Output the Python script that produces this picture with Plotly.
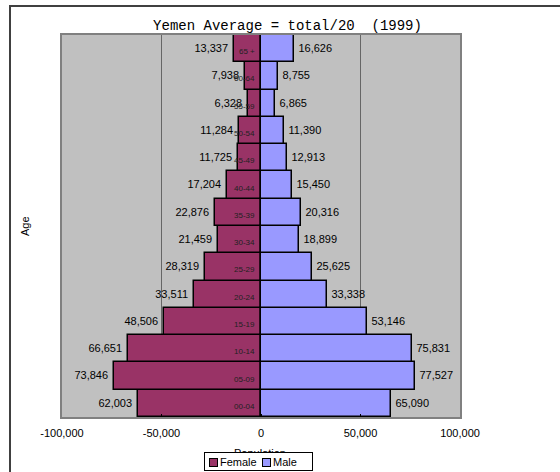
import plotly.graph_objects as go

# ---------------- data ----------------
ages = ["00-04", "05-09", "10-14", "15-19", "20-24", "25-29", "30-34",
        "35-39", "40-44", "45-49", "50-54", "55-59", "60-64", "65 +"]
female = [62003, 73846, 66651, 48506, 33511, 28319, 21459,
          22876, 17204, 11725, 11284, 6328, 7938, 13337]
male = [65090, 77527, 75831, 53146, 33338, 25625, 18899,
        20316, 15450, 12913, 11390, 6865, 8755, 16626]
x_ticks = [-100000, -50000, 0, 50000, 100000]
x_tick_labels = ["-100,000", "-50,000", "0", "50,000", "100,000"]
title_text = "Yemen Average = total/20\u00a0\u00a0(1999)"

# ---------------- geometry helpers ----------------
W, H = 560, 472
L, R, T, B = 62, 100, 35, 55
PW, PH = W - L - R, H - T - B


def px_x(p):
    return (p - L) / PW


def px_y(p):
    return (H - B - p) / PH


SANS = "Arial, Liberation Sans, sans-serif"
MONO = "Liberation Mono, DejaVu Sans Mono, monospace"
FEMALE_C = "#993366"
MALE_C = "#9999FF"

fig = go.Figure()
fig.add_trace(go.Bar(
    y=ages, x=[-v for v in female], orientation="h", name="Female",
    marker=dict(color=FEMALE_C, line=dict(color="#000000", width=1.5)),
    text=[f"{v:,}\u2009" for v in female], textposition="outside",
    textfont=dict(family=SANS, size=11, color="#000000"),
    cliponaxis=False, constraintext="none", hoverinfo="skip",
))
fig.add_trace(go.Bar(
    y=ages, x=male, orientation="h", name="Male",
    marker=dict(color=MALE_C, line=dict(color="#000000", width=1.5)),
    text=[f"\u2009{v:,}" for v in male], textposition="outside",
    textfont=dict(family=SANS, size=11, color="#000000"),
    cliponaxis=False, constraintext="none", hoverinfo="skip",
))

annotations = []
# age labels inside the female bars
for a in ages:
    annotations.append(dict(
        x=0, y=a, xref="x", yref="y", text=a, showarrow=False,
        xanchor="right", yanchor="middle", xshift=-4, yshift=-3,
        font=dict(family=SANS, size=8, color="#222222"),
    ))
# axis titles
annotations.append(dict(
    x=px_x(25), y=px_y(226), xref="paper", yref="paper", text="Age",
    showarrow=False, textangle=-90, xanchor="center", yanchor="middle",
    font=dict(family=SANS, size=11, color="#000000"),
))
annotations.append(dict(
    x=px_x(260), y=px_y(453), xref="paper", yref="paper", text="Population",
    showarrow=False, xanchor="center", yanchor="middle",
    font=dict(family=SANS, size=11, color="#000000"),
))
# legend box
annotations.append(dict(
    x=px_x(204), y=px_y(452), xref="paper", yref="paper", text=" ",
    showarrow=False, xanchor="left", yanchor="top", width=107, height=17,
    bgcolor="#FFFFFF", bordercolor="#000000", borderwidth=1, borderpad=0,
    font=dict(size=1),
))
for cx, col in [(213, FEMALE_C), (266.5, MALE_C)]:
    annotations.append(dict(
        x=px_x(cx), y=px_y(462), xref="paper", yref="paper", text=" ",
        showarrow=False, xanchor="center", yanchor="middle", width=7, height=7,
        bgcolor=col, bordercolor="#000000", borderwidth=1, borderpad=0,
        font=dict(size=1),
    ))
for lx, name in [(219, "Female"), (272, "Male")]:
    annotations.append(dict(
        x=px_x(lx), y=px_y(462), xref="paper", yref="paper", text=name,
        showarrow=False, xanchor="left", yanchor="middle", borderpad=0,
        font=dict(family=SANS, size=11, color="#000000"),
    ))

fig.update_layout(
    width=W, height=H,
    margin=dict(l=L, r=R, t=T, b=B, pad=0),
    paper_bgcolor="#FFFFFF", plot_bgcolor="#C0C0C0",
    barmode="relative", bargap=0,
    showlegend=False,
    title=dict(text=title_text, xref="container", yref="container",
               x=287.5 / W, y=1 - 25 / H, xanchor="center", yanchor="middle",
               font=dict(family=MONO, size=14, color="#000000")),
    xaxis=dict(
        range=[-100000, 100000], tickmode="array", tickvals=x_ticks,
        ticktext=x_tick_labels, ticks="inside", ticklen=3, tickcolor="#000000",
        tickwidth=1, showgrid=True, gridcolor="#666666", gridwidth=1,
        zeroline=False, showline=True, linecolor="#808080", linewidth=1.5,
        mirror=True, tickfont=dict(family=SANS, size=11, color="#000000"),
        ticklabelstandoff=5,
    ),
    yaxis=dict(
        type="category", categoryorder="array", categoryarray=ages,
        range=[-0.5, len(ages) - 0.5], showticklabels=False, showgrid=False,
        zeroline=False, showline=True, linecolor="#808080", linewidth=1.5,
        mirror=True, ticks="",
    ),
    annotations=annotations,
    shapes=[dict(
        type="rect", xref="paper", yref="paper",
        x0=px_x(10), x1=px_x(600), y0=px_y(500), y1=px_y(6),
        line=dict(color="#404040", width=2), fillcolor="rgba(0,0,0,0)",
        layer="above",
    )],
)

fig.write_html("out.html")
